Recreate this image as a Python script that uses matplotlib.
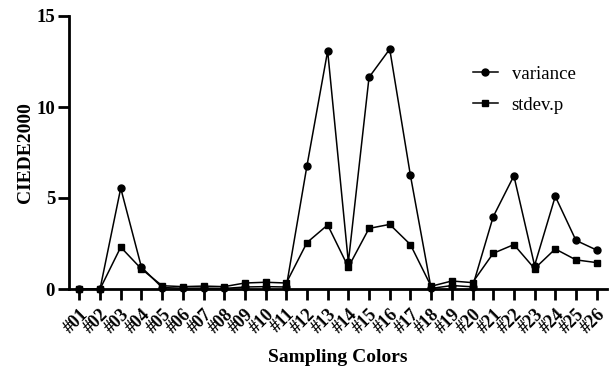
import matplotlib
matplotlib.use("Agg")
import matplotlib.pyplot as plt

categories = [f"#{i:02d}" for i in range(1, 27)]
variance = [0.0, 0.0, 5.54, 1.2, 0.08, 0.04, 0.05, 0.03, 0.11, 0.13, 0.11,
            6.77, 13.08, 1.47, 11.63, 13.18, 6.24, 0.03, 0.19, 0.12,
            3.97, 6.22, 1.29, 5.09, 2.67, 2.14]
stdev_p = [0.0, 0.0, 2.3, 1.1, 0.18, 0.13, 0.16, 0.13, 0.33, 0.37, 0.33,
           2.55, 3.52, 1.2, 3.33, 3.55, 2.44, 0.15, 0.44, 0.35,
           1.96, 2.44, 1.12, 2.2, 1.6, 1.45]
yticks = [0, 5, 10, 15]

plt.rcParams['font.family'] = ['Liberation Serif', 'DejaVu Serif']

fig = plt.figure(figsize=(6.16, 3.69), dpi=100)
ax = fig.add_axes([69 / 616, 1 - 289 / 369, (607 - 69) / 616, (289 - 16) / 369])

x = list(range(len(categories)))
ax.plot(x, variance, color='black', lw=1.1, marker='o', markersize=5, label='variance', clip_on=False, zorder=3)
ax.plot(x, stdev_p, color='black', lw=1.1, marker='s', markersize=5, label='stdev.p', clip_on=False, zorder=3)

ax.set_xlim(-0.5, len(categories) - 0.5)
ax.set_ylim(0, 15)
ax.set_yticks(yticks)
ax.set_xticks(x)
ax.set_xticklabels(categories, rotation=45, ha='right', rotation_mode='anchor',
                   fontweight='bold', fontsize=13)
for lbl in ax.get_yticklabels():
    lbl.set_fontweight('bold')
    lbl.set_fontsize(13.5)

for s in ['top', 'right']:
    ax.spines[s].set_visible(False)
for s in ['left', 'bottom']:
    ax.spines[s].set_linewidth(2)
ax.tick_params(axis='x', direction='out', length=8, width=2, pad=4)
ax.tick_params(axis='y', direction='out', length=8, width=2, pad=2)

ax.set_xlabel('Sampling Colors', fontweight='bold', fontsize=14, labelpad=9)
ax.set_ylabel('CIEDE2000', fontweight='bold', fontsize=14, labelpad=2)

ax.legend(loc='upper left', bbox_to_anchor=(0.72, 0.88), frameon=False,
          fontsize=13.5, handlelength=1.3, handletextpad=0.75, labelspacing=0.75)

fig.savefig('out.png', dpi=100)
